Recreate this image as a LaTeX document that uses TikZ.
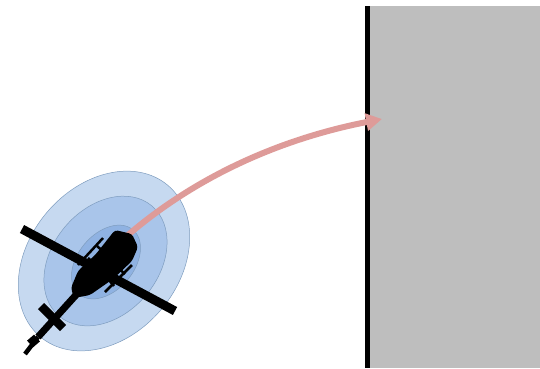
\documentclass[tikz,border=0pt]{standalone}
\usepackage{tikz}
\usetikzlibrary{arrows.meta}
\definecolor{zoneouter}{HTML}{C6D9F0}
\definecolor{zonemiddle}{HTML}{A9C5EA}
\definecolor{zoneinner}{HTML}{8FB2E2}
\definecolor{zoneline}{HTML}{7F9DBF}
\definecolor{flightpath}{HTML}{DE9B99}
\definecolor{building}{HTML}{BEBEBE}
\tikzstyle{zone} = [
    draw=zoneline,
    line width=0.5pt
]
\tikzstyle{blade} = [
    draw=black,
    line width=9pt
]
\tikzstyle{skid} = [
    draw=black,
    line width=2.5pt
]
\tikzstyle{arrow} = [
    draw=flightpath,
    line width=6pt,
    -{Stealth[length=16pt,width=17pt,inset=0pt]}
]

\begin{document}
\begin{tikzpicture}[x=1pt,y=-1pt]
\useasboundingbox (0,0) rectangle (540,368);

\fill [building] (367,6) rectangle (540,368);
\draw [black, line width=5pt] (367,6) -- (367,368);

\draw [zone, fill=zoneouter, rotate around={50:(104,261)}] (104,261) ellipse [x radius=99, y radius=75];
\draw [zone, fill=zonemiddle, rotate around={50:(105.5,261)}] (105.5,261) ellipse [x radius=72, y radius=53];
\draw [zone, fill=zoneinner, rotate around={50:(106,262)}] (106,262) ellipse [x radius=42, y radius=28];

\coordinate (nose) at (128,235);
\coordinate (target) at (382,119);
\draw [arrow] (nose) .. controls (185,186) and (265,142) .. (target);

\fill [black, rounded corners=3pt] (115,230) -- (132,234) -- (138,247) -- (132,261)
    -- (113,279) -- (90,295) -- (74,298) -- (71,288) -- (78,271) -- (96,254) -- cycle;
\draw [black, line width=7pt] (85,285) -- (38,337);
\draw [black, line width=4.5pt] (38,337) -- (25,354);
\draw [black, line width=9pt] (37,338) -- (30,344);
\draw [blade] (22,229) -- (175,311);
\draw [black, line width=8.5pt] (41,306) -- (63,328);
\draw [skid] (78,265) -- (103,238);
\draw [skid] (105,292) -- (132,265);
\draw [skid] (88,258) -- (95,264);
\draw [skid] (97,246) -- (106,254);
\draw [skid] (108,279) -- (114,286);
\draw [skid] (118,268) -- (125,274);
\end{tikzpicture}
\end{document}
